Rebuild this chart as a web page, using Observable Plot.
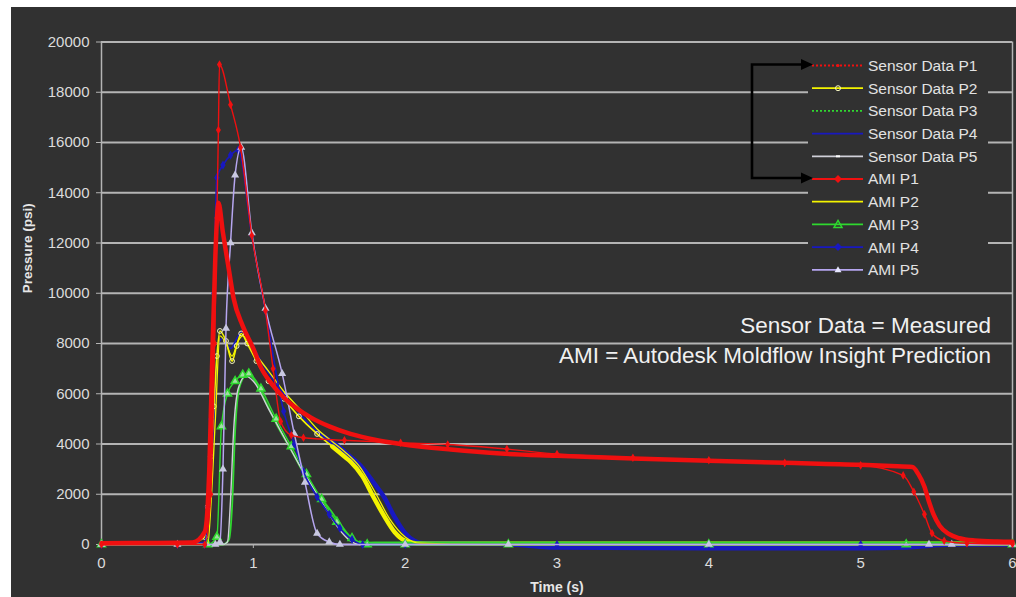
<!DOCTYPE html>
<html>
<head>
<meta charset="utf-8">
<script src="https://cdn.jsdelivr.net/npm/d3@7"></script>
<script src="https://cdn.jsdelivr.net/npm/@observablehq/plot@0.6"></script>
<style>
  html, body { margin: 0; padding: 0; background: #ffffff; }
  #wrap { position: absolute; left: 11px; top: 7px; width: 1005px; height: 590px; background: #313131; }
</style>
</head>
<body>
<div id="wrap"></div>
<script>
// ---------- data (time in s, pressure in psi) ----------
const xTicks = [0, 1, 2, 3, 4, 5, 6];
const yTicks = [0, 2000, 4000, 6000, 8000, 10000, 12000, 14000, 16000, 18000, 20000];

const seriesNames = ["Sensor Data P1", "Sensor Data P2", "Sensor Data P3", "Sensor Data P4", "Sensor Data P5",
                     "AMI P1", "AMI P2", "AMI P3", "AMI P4", "AMI P5"];

// Sensor Data P1 (thick red)
const s1T = [0, 0.3, 0.6, 0.68, 0.71, 0.73, 0.75, 0.77, 0.8, 0.84, 0.87, 0.93, 1.0, 1.05, 1.12, 1.2, 1.29, 1.38, 1.5, 1.64, 1.8, 1.97, 2.3, 2.63, 3.0, 3.5, 4.0, 4.5, 5.0, 5.2, 5.34, 5.38, 5.42, 5.45, 5.48, 5.52, 5.58, 5.65, 5.75, 5.9, 6.0];
const s1P = [50, 60, 80, 500, 3000, 7500, 11500, 13600, 12400, 10900, 9800, 8700, 7800, 7050, 6400, 5850, 5400, 5050, 4700, 4400, 4170, 4000, 3780, 3620, 3530, 3420, 3330, 3250, 3170, 3120, 3080, 2800, 2300, 1700, 1200, 750, 420, 250, 160, 120, 110];

// Sensor Data P2 (yellow, double peak)
const s2T = [0, 0.3, 0.6, 0.68, 0.7, 0.72, 0.74, 0.76, 0.78, 0.82, 0.86, 0.89, 0.92, 0.96, 1.02, 1.1, 1.2, 1.3, 1.42, 1.52, 1.6, 1.64, 1.72, 1.79, 1.86, 1.93, 2.0, 2.08, 2.2, 2.6, 3.0, 4.0, 5.0, 6.0];
const s2P = [80, 80, 90, 300, 1500, 3500, 5500, 7500, 8500, 8100, 7300, 7900, 8400, 8000, 7300, 6500, 5800, 5100, 4400, 3900, 3500, 3300, 2700, 1900, 1150, 500, 150, 40, 30, 30, 30, 30, 30, 30];

// Sensor Data P3 (green)
const s3T = [0, 0.5, 0.8, 0.84, 0.86, 0.88, 0.9, 0.93, 0.96, 1.0, 1.08, 1.16, 1.25, 1.33, 1.42, 1.51, 1.58, 1.64, 1.7, 1.75, 1.85, 2.5, 3.0, 4.0, 5.0, 5.5, 6.0];
const s3P = [0, 0, 0, 200, 1500, 4500, 6000, 6600, 6800, 6600, 5700, 4700, 3750, 2850, 2050, 1350, 750, 300, 80, 30, 40, 40, 40, 40, 40, 40, 40];

// Sensor Data P4 (blue)
const s4T = [0, 0.5, 0.68, 0.71, 0.74, 0.77, 0.8, 0.85, 0.9, 0.93, 0.97, 1.05, 1.15, 1.25, 1.35, 1.45, 1.55, 1.64, 1.72, 1.8, 1.86, 1.93, 2.0, 2.06, 2.12, 2.3, 2.7, 3.0, 4.0, 5.0, 5.3, 5.6, 6.0];
const s4P = [50, 50, 80, 1500, 5000, 8000, 8200, 7800, 8300, 8500, 8200, 7300, 6400, 5600, 4900, 4350, 3950, 3500, 3050, 2400, 1900, 1100, 450, 150, 50, 40, 0, -120, -150, -150, -120, 0, 0];

// Sensor Data P5 (light gray)
const s5T = [0, 0.5, 0.75, 0.8, 0.83, 0.85, 0.87, 0.9, 0.95, 1.0, 1.1, 1.2, 1.3, 1.4, 1.5, 1.58, 1.65, 1.7, 2.0, 3.0, 4.0, 5.0, 6.0];
const s5P = [0, 0, 0, 0, 100, 1800, 4500, 6200, 6700, 6500, 5400, 4300, 3200, 2200, 1200, 500, 100, 0, 0, 0, 0, 0, 0];

// AMI P1 (thin red, peak 19100)
const a1T = [0, 0.5, 0.68, 0.72, 0.745, 0.76, 0.77, 0.777, 0.85, 0.916, 0.99, 1.08, 1.13, 1.18, 1.25, 1.33, 1.6, 1.97, 2.28, 2.67, 3.0, 3.5, 4.0, 4.5, 5.0, 5.28, 5.35, 5.42, 5.47, 5.55, 5.7, 6.0];
const a1P = [0, 0, 0, 2000, 8000, 13000, 16500, 19100, 17500, 15800, 12300, 9300, 7000, 4900, 4350, 4250, 4150, 4050, 3980, 3800, 3600, 3450, 3350, 3250, 3150, 2750, 2100, 1200, 450, 150, 50, 20];

// AMI P2 (thin yellow)
const a2T = [0, 0.5, 0.7, 0.72, 0.75, 0.78, 0.82, 0.86, 0.9, 0.93, 1.0, 1.1, 1.2, 1.32, 1.42, 1.52, 1.6, 1.7, 1.8, 1.9, 2.0, 2.1, 2.5, 3.0, 4.0, 5.0, 6.0];
const a2P = [0, 0, 0, 1500, 5000, 8300, 8000, 7500, 8100, 8300, 7700, 6900, 6100, 5300, 4600, 4100, 3700, 3100, 2100, 1000, 300, 50, 0, 0, 0, 0, 0];

// AMI P3 (green, triangles)
const a3T = [0, 0.7, 0.76, 0.79, 0.83, 0.88, 0.93, 0.97, 1.05, 1.15, 1.25, 1.35, 1.45, 1.55, 1.65, 1.75, 2.0, 2.68, 4.0, 5.3, 6.0];
const a3P = [0, 0, 300, 4700, 6000, 6500, 6750, 6800, 6200, 5000, 3900, 2800, 1800, 900, 250, 0, 0, 0, 0, 0, 0];

// AMI P4 (blue, diamonds)
const a4T = [0, 0.5, 0.68, 0.7, 0.72, 0.74, 0.76, 0.8, 0.85, 0.9, 0.99, 1.08, 1.2, 1.27, 1.33, 1.42, 1.5, 1.57, 1.65, 1.72, 2.0, 3.0, 4.0, 5.0, 6.0];
const a4P = [0, 0, 0, 1500, 5000, 10000, 14600, 15100, 15500, 15700, 12300, 9300, 5300, 4000, 2900, 1900, 1200, 650, 200, 0, 0, 0, 0, 0, 0];

// AMI P5 (lavender, triangles)
const a5T = [0, 0.5, 0.75, 0.78, 0.8, 0.82, 0.85, 0.88, 0.92, 0.99, 1.08, 1.19, 1.27, 1.34, 1.42, 1.5, 1.57, 2.0, 2.68, 4.0, 5.45, 5.6, 6.0];
const a5P = [0, 0, 0, 100, 3000, 8600, 12000, 14700, 15800, 12400, 9400, 6800, 4400, 2470, 440, 100, 0, 0, 0, 0, 0, 0, 0];

// ---------- build tables ----------
const rows = (name, ts, ps) => ts.map((t, i) => ({series: name, t, p: ps[i]}));
const S1 = rows(seriesNames[0], s1T, s1P);
const S2 = rows(seriesNames[1], s2T, s2P);
const S3 = rows(seriesNames[2], s3T, s3P);
const S4 = rows(seriesNames[3], s4T, s4P);
const S5 = rows(seriesNames[4], s5T, s5P);
const A1 = rows(seriesNames[5], a1T, a1P);
const A2 = rows(seriesNames[6], a2T, a2P);
const A3 = rows(seriesNames[7], a3T, a3P);
const A4 = rows(seriesNames[8], a4T, a4P);
const A5 = rows(seriesNames[9], a5T, a5P);

const RED = "#f01010", YEL = "#f4f400", GRN = "#2fd82f", BLU = "#1818c0", LAV = "#b6a6f0", GRY = "#cfcfd8";
const GRID = "#b4b4b4";
const curve = "monotone-x";
const L = (data, stroke, w, extra = {}) => Plot.line(data, {x: "t", y: "p", stroke, strokeWidth: w, curve, ...extra});

const chart = Plot.plot({
  width: 1005,
  height: 590,
  marginLeft: 90,
  marginRight: 4,
  marginTop: 34.5,
  marginBottom: 53,
  style: {background: "#313131", color: "#dcdcdc", fontFamily: "Liberation Sans, Arial, sans-serif", fontSize: "15px"},
  x: {domain: [0, 6], ticks: xTicks, label: null},
  y: {domain: [0, 20000], ticks: yTicks, label: null},
  marks: [
    Plot.gridY(yTicks, {stroke: GRID, strokeOpacity: 1, strokeWidth: 2}),
    Plot.ruleX([0], {stroke: GRID, strokeWidth: 1.5}),
    Plot.ruleX([6], {stroke: GRID, strokeWidth: 1.5}),
    Plot.axisY({ticks: yTicks, tickSize: 5, tickPadding: 7, tickFormat: d => String(d), stroke: GRID, label: null}),
    Plot.axisX({ticks: xTicks, tickSize: 4, tickPadding: 9, tickFormat: d => String(d), stroke: GRID, label: null}),
    Plot.text(["Pressure (psi)"], {frameAnchor: "left", dx: -74, rotate: -90, fontWeight: "bold", fontSize: 13.5, fill: "#e6e6e6"}),
    Plot.text(["Time (s)"], {frameAnchor: "bottom", dy: 47, fontWeight: "bold", fontSize: 14, fill: "#e6e6e6"}),
    // sensor P4 / P2 thin + thick parts
    L(S4, BLU, 1.6),
    L(S4.filter(d => d.t >= 1.4), BLU, 4.5),
    L(S2, YEL, 1.6),
    L(S2.filter(d => d.t >= 1.45), YEL, 4.5),
    Plot.dot(S2.filter(d => d.t > 0.6 && d.t < 1.45), {x: "t", y: "p", stroke: "#f6f6c0", r: 2.4, strokeWidth: 1}),
    L(S3, GRN, 1.8),
    L(S3.filter(d => d.t >= 1.7), GRN, 4),
    L(S5, GRY, 1.4),
    L(A3, GRN, 1.4),
    Plot.dot(A3, {x: "t", y: "p", symbol: "triangle", fill: "#9fe09f", stroke: GRN, r: 3}),
    L(A2, YEL, 1.3),
    L(A4, BLU, 1.6),
    Plot.dot(A4, {x: "t", y: "p", symbol: "diamond", fill: BLU, r: 2.8}),
    L(A5, LAV, 1.5),
    Plot.dot(A5, {x: "t", y: "p", symbol: "triangle", fill: "#c8c8e0", r: 3}),
    L(S1, RED, 4.5),
    L(A1, RED, 1.4),
    Plot.dot(A1, {x: "t", y: "p", symbol: "diamond", fill: RED, r: 2.6})
  ]
});
document.getElementById("wrap").appendChild(chart);

// ---------- legend & annotations (drawn inside the plot svg) ----------
const ox = 11, oy = 7;
const svg = d3.select(chart);
const g = svg.append("g").attr("transform", `translate(${-ox},${-oy})`).attr("text-anchor", "start");
g.append("rect").attr("x", 808).attr("y", 50).attr("width", 180).attr("height", 233).attr("fill", "#313131");

const legendStyles = [
  {c: RED, dash: "2,2", m: "dot"},
  {c: YEL, dash: null, m: "circle"},
  {c: GRN, dash: "2,2", m: null},
  {c: BLU, dash: null, m: null},
  {c: GRY, dash: null, m: "dash"},
  {c: RED, dash: null, m: "diamond"},
  {c: YEL, dash: null, m: null},
  {c: GRN, dash: null, m: "triangle"},
  {c: BLU, dash: null, m: "diamond"},
  {c: LAV, dash: null, m: "triangleW"}
];
seriesNames.forEach((name, i) => {
  const y = 65.5 + i * 22.7;
  const s = legendStyles[i];
  const ln = g.append("line").attr("x1", 812).attr("x2", 863).attr("y1", y).attr("y2", y)
    .attr("stroke", s.c).attr("stroke-width", 1.8);
  if (s.dash) ln.attr("stroke-dasharray", s.dash);
  const cx = 838;
  if (s.m === "dot") g.append("circle").attr("cx", cx).attr("cy", y).attr("r", 1.5).attr("fill", s.c);
  if (s.m === "circle") g.append("circle").attr("cx", cx).attr("cy", y).attr("r", 2.5).attr("fill", "none").attr("stroke", "#f6f6c0");
  if (s.m === "dash") g.append("line").attr("x1", cx - 2).attr("x2", cx + 2).attr("y1", y).attr("y2", y).attr("stroke", "#fff").attr("stroke-width", 2);
  if (s.m === "diamond") g.append("path").attr("d", `M${cx},${y - 4}L${cx + 4},${y}L${cx},${y + 4}L${cx - 4},${y}Z`).attr("fill", s.c);
  if (s.m === "triangle") g.append("path").attr("d", `M${cx},${y - 4}L${cx + 4},${y + 3}L${cx - 4},${y + 3}Z`).attr("fill", "none").attr("stroke", s.c).attr("stroke-width", 1.5);
  if (s.m === "triangleW") g.append("path").attr("d", `M${cx},${y - 3.5}L${cx + 3.5},${y + 2.5}L${cx - 3.5},${y + 2.5}Z`).attr("fill", "#e8e8ff");
  g.append("text").attr("x", 868).attr("y", y).attr("dy", "0.35em").attr("text-anchor", "start")
    .attr("fill", "#e2e2e2").attr("font-size", 15.5).attr("font-family", "Liberation Sans, Arial, sans-serif")
    .text(name);
});

// bracket arrow
g.append("path").attr("d", "M803,64.5H752V178H803").attr("fill", "none").attr("stroke", "#000").attr("stroke-width", 2.6);
g.append("path").attr("d", "M813,64.5L801,59L801,70Z").attr("fill", "#000");
g.append("path").attr("d", "M813,178L801,172.5L801,183.5Z").attr("fill", "#000");

// annotation text
const ann = ["Sensor Data = Measured", "AMI = Autodesk Moldflow Insight Prediction"];
ann.forEach((t, i) => {
  g.append("text").attr("x", 991).attr("y", 333 + i * 30).attr("text-anchor", "end")
    .attr("fill", "#f0f0f0").attr("font-size", 22.5).attr("font-family", "Liberation Sans, Arial, sans-serif")
    .text(t);
});
</script>
</body>
</html>
